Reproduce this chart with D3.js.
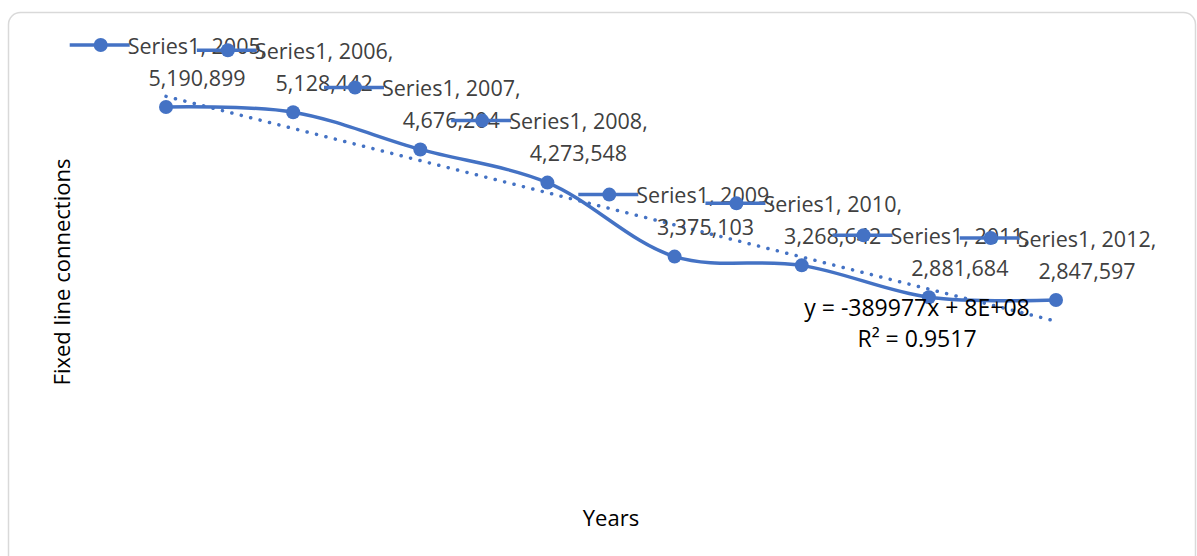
<!DOCTYPE html>
<html>
<head>
<meta charset="utf-8">
<script src="https://cdn.jsdelivr.net/npm/d3@7"></script>
<style>
  html, body { margin: 0; padding: 0; background: #fff; }
  svg { display: block; }
  text { font-family: "Open Sans", "Noto Sans", sans-serif; }
</style>
</head>
<body>
<svg id="chart" width="1197" height="556"></svg>
<script>
// Fixed line connections per year
const seriesName = "Series1";
const years = [2005, 2006, 2007, 2008, 2009, 2010, 2011, 2012];
const connections = [5190899, 5128442, 4676204, 4273548, 3375103, 3268642, 2881684, 2847597];
const equationText = "y = -389977x + 8E+08";
const r2Text = "R\u00B2 = 0.9517";
const yTitle = "Fixed line connections";
const xTitle = "Years";

const W = 1197, H = 556;
const blue = "#4472C4";
const svg = d3.select("#chart");

// chart frame
svg.append("rect")
  .attr("x", 8.5).attr("y", 12.5)
  .attr("width", 1187).attr("height", 560)
  .attr("rx", 12).attr("ry", 12)
  .attr("fill", "#fff").attr("stroke", "#d9d9d9").attr("stroke-width", 1.5);

const x = d3.scalePoint().domain(years).range([166, 1056]);
const y = d3.scaleLinear().domain([1000000, 6000000]).range([452.2, 40.4]);

const data = years.map((yr, i) => ({ year: yr, value: connections[i], idx: i + 1 }));

// series line (smoothed)
const line = d3.line()
  .x(d => x(d.year))
  .y(d => y(d.value))
  .curve(d3.curveCatmullRom.alpha(0.5));

svg.append("path")
  .datum(data)
  .attr("d", line)
  .attr("fill", "none")
  .attr("stroke", blue)
  .attr("stroke-width", 3.5)
  .attr("stroke-linejoin", "round");

svg.selectAll("circle.pt")
  .data(data)
  .join("circle")
  .attr("class", "pt")
  .attr("cx", d => x(d.year))
  .attr("cy", d => y(d.value))
  .attr("r", 7)
  .attr("fill", blue);

// linear trendline (least squares on category index)
const n = data.length;
const mx = d3.mean(data, d => d.idx);
const my = d3.mean(data, d => d.value);
const slope = d3.sum(data, d => (d.idx - mx) * (d.value - my)) / d3.sum(data, d => (d.idx - mx) ** 2);
const intercept = my - slope * mx;
const trend = [data[0], data[n - 1]].map(d => ({ year: d.year, value: intercept + slope * d.idx }));

svg.append("path")
  .datum(trend)
  .attr("d", d3.line().x(d => x(d.year)).y(d => y(d.value)))
  .attr("fill", "none")
  .attr("stroke", blue)
  .attr("stroke-width", 3.5)
  .attr("stroke-linecap", "round")
  .attr("stroke-dasharray", "0.1 9.6");

// data labels with legend key
const fs = 21.5;
const keyW = 58;
data.forEach(d => {
  const px = x(d.year), py = y(d.value);
  const g = svg.append("g");
  const t1 = g.append("text")
    .attr("font-size", fs)
    .attr("fill", "#404040")
    .attr("dominant-baseline", "central")
    .text(`${seriesName}, ${d.year},`);
  const w1 = t1.node().getComputedTextLength();
  const left = px - (keyW + w1) / 2 + 2;
  const ly1 = py - 62, ly2 = py - 30;
  t1.attr("x", left + keyW).attr("y", ly1);
  g.insert("line", "text")
    .attr("x1", left).attr("x2", left + keyW + 2)
    .attr("y1", ly1).attr("y2", ly1)
    .attr("stroke", blue).attr("stroke-width", 3.5);
  g.insert("circle", "text")
    .attr("cx", left + keyW / 2 + 2).attr("cy", ly1).attr("r", 7)
    .attr("fill", blue);
  g.append("text")
    .attr("font-size", fs)
    .attr("fill", "#404040")
    .attr("dominant-baseline", "central")
    .attr("text-anchor", "middle")
    .attr("x", left + keyW + w1 / 2)
    .attr("y", ly2)
    .text(d3.format(",")(d.value));
});

// trendline equation
const ex = x(trend[1].year) - 139;
const ey = y(trend[1].value) - 14;
const efs = 23;
svg.append("text")
  .attr("x", ex).attr("y", ey)
  .attr("font-size", efs).attr("fill", "#000")
  .attr("text-anchor", "middle").attr("dominant-baseline", "central")
  .text(equationText);
svg.append("text")
  .attr("x", ex).attr("y", ey + 31)
  .attr("font-size", efs).attr("fill", "#000")
  .attr("text-anchor", "middle").attr("dominant-baseline", "central")
  .text(r2Text);

// axis titles
svg.append("text")
  .attr("transform", "translate(61,272) rotate(-90)")
  .attr("font-size", 22).attr("fill", "#000")
  .attr("text-anchor", "middle").attr("dominant-baseline", "central")
  .text(yTitle);
svg.append("text")
  .attr("x", (x.range()[0] + x.range()[1]) / 2).attr("y", 517)
  .attr("font-size", 22).attr("fill", "#000")
  .attr("text-anchor", "middle").attr("dominant-baseline", "central")
  .text(xTitle);
</script>
</body>
</html>
